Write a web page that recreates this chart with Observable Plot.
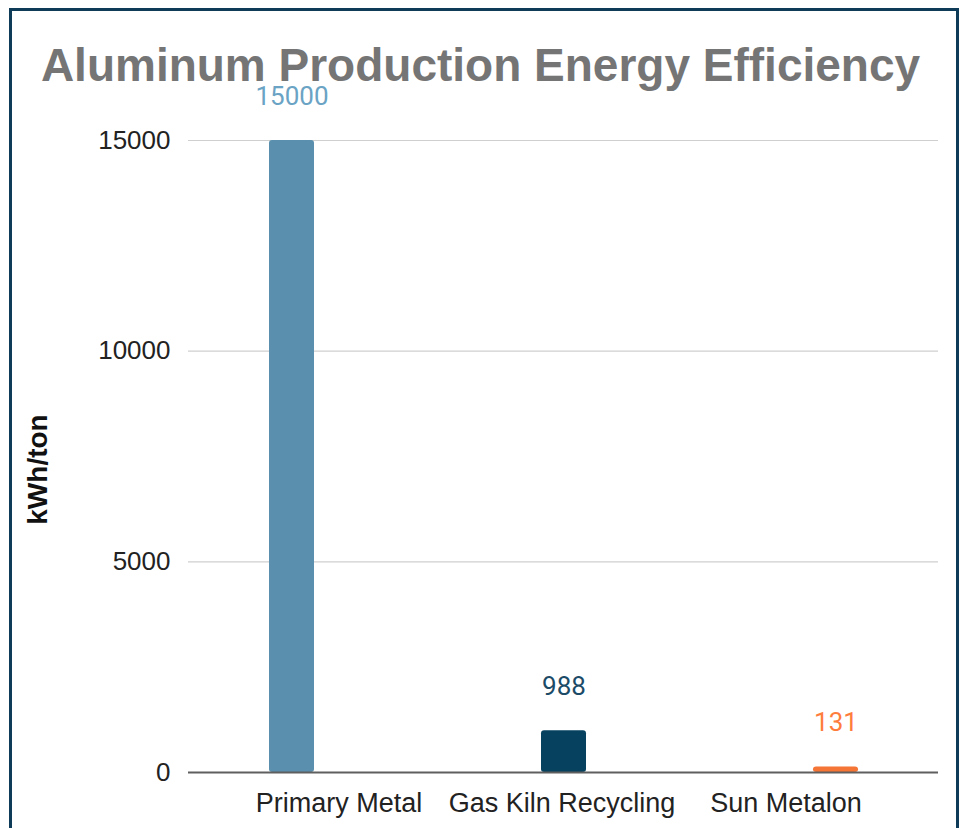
<!DOCTYPE html>
<html>
<head>
<meta charset="utf-8">
<script src="https://cdn.jsdelivr.net/npm/d3@7"></script>
<script src="https://cdn.jsdelivr.net/npm/@observablehq/plot@0.6"></script>
<style>
  html, body { margin: 0; padding: 0; background: #fff; width: 961px; height: 828px; overflow: hidden; }
  #frame { position: absolute; left: 9px; top: 8px; width: 944px; height: 900px;
           border: 3px solid #0d3b58; border-bottom: none; }
  #title { position: absolute; left: 0; top: 42px; width: 961px; text-align: center;
           font-family: "Liberation Sans", Arial, sans-serif; font-weight: bold;
           font-size: 46px; line-height: 46px; color: #757575; white-space: nowrap; }
  #chart { position: absolute; left: 0; top: 110px; }
  #chart svg { overflow: visible; }
</style>
</head>
<body>
<div id="frame"></div>
<div id="title">Aluminum Production Energy Efficiency</div>
<div id="chart"></div>
<script>
const categories = ["Primary Metal", "Gas Kiln Recycling", "Sun Metalon"];
const values = [15000, 988, 131];
const barColors = ["#5a8fae", "#06415f", "#f47535"];
const labelColors = ["#6aa3c4", "#1c4b68", "#ff7d3c"];
const yTicks = [0, 5000, 10000, 15000];
const yLabel = "kWh/ton";

const data = categories.map((c, i) => ({category: c, value: values[i], bar: barColors[i], lab: labelColors[i]}));

const xLabelStyle = {tickSize: 0, tickPadding: 20, fontSize: 27, label: null};

const plot = Plot.plot({
  width: 961,
  height: 718,
  marginTop: 30,
  marginBottom: 56,
  marginLeft: 188,
  marginRight: 23,
  style: {background: "transparent", fontFamily: "'Liberation Sans', Arial, sans-serif", color: "#222", overflow: "visible"},
  x: {domain: categories, range: [131.5, 995.5], paddingInner: 0.835, paddingOuter: 0.5, label: null},
  y: {domain: [0, 15000], label: null},
  marks: [
    Plot.gridY(yTicks.filter(d => d > 0), {stroke: "#cfcfcf", strokeOpacity: 1, strokeWidth: 1.2}),
    Plot.barY(data, {x: "category", y: "value", fill: "bar", rx: 3}),
    Plot.ruleY([0], {stroke: "#5f5f5f", strokeWidth: 2}),
    Plot.text(data, {x: "category", y: "value", text: d => String(d.value), fill: "lab", dy: -44,
      fontSize: 26, fontFamily: "Roboto, sans-serif"}),
    Plot.axisY({ticks: yTicks, tickFormat: d => String(d), tickSize: 0, tickPadding: 18, fontSize: 26, label: null}),
    Plot.text([yLabel], {frameAnchor: "left", textAnchor: "middle", rotate: -90, dx: -150, dy: 13,
      fontSize: 28, fontWeight: "bold", fill: "#111"}),
    // Category labels are laid out evenly below the axis, as in the source chart
    Plot.axisX({...xLabelStyle, ticks: [categories[0]], dx: 47}),
    Plot.axisX({...xLabelStyle, ticks: [categories[1]], dx: -2}),
    Plot.axisX({...xLabelStyle, ticks: [categories[2]], dx: -50})
  ]
});
document.getElementById("chart").appendChild(plot);
</script>
</body>
</html>
